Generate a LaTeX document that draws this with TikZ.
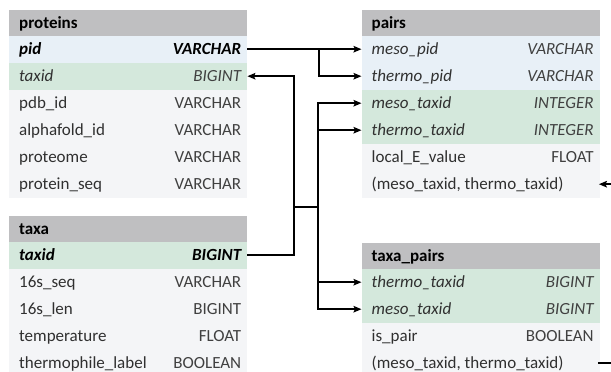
\documentclass[tikz,border=0pt]{standalone}
\usepackage{fontspec}
\setmainfont{Carlito}
\usetikzlibrary{arrows.meta,calc}
\definecolor{hdrgray}{HTML}{BFBFC1}
\definecolor{keyblue}{HTML}{E8F0F7}
\definecolor{keygreen}{HTML}{D4E8DC}
\definecolor{plainrow}{HTML}{F4F5F7}
\definecolor{fieldcol}{HTML}{303030}
\definecolor{typecol}{HTML}{404040}
\tikzset{
  rowbox/.style={anchor=north west, minimum width=238pt, minimum height=27pt, inner sep=0pt, draw=none},
  hdrbox/.style={anchor=north west, minimum width=238pt, minimum height=26pt, inner sep=0pt, fill=hdrgray, draw=none},
  fieldtxt/.style={anchor=base west, inner sep=0pt, text=fieldcol, font=\fontsize{17}{20}\selectfont},
  typetxt/.style={anchor=base east, inner sep=0pt, text=typecol, font=\fontsize{17}{20}\selectfont},
  hdrtxt/.style={anchor=base west, inner sep=0pt, text=black, font=\fontsize{17}{20}\selectfont\bfseries},
  conn/.style={line width=1.6pt, -{Stealth[length=8pt,width=6.5pt,inset=1.5pt]}},
  link/.style={line width=1.6pt},
}
\newcommand\tblhead[4]{%
  \node[hdrbox] (#1) at (#2,#3) {};
  \node[hdrtxt] (#1-f) at ([xshift=10pt,yshift=-5.5pt]#1.west) {#4};
}
\newcommand\tblrow[6]{%
  \node[rowbox,fill=#4] (#1) at (#2,#3) {};
  \node[fieldtxt] (#1-f) at ([xshift=10pt,yshift=-5.5pt]#1.west) {#5};
  \node[typetxt] (#1-t) at ([xshift=-6pt,yshift=-5.5pt]#1.east) {#6};
}
\begin{document}
\begin{tikzpicture}[x=1pt,y=-1pt]
\useasboundingbox[fill=white] (0,0) rectangle (611,372);
\clip (0,0) rectangle (611,372);
% proteins
\tblhead{ph}{9}{9.5}{proteins}
\tblrow{p1}{9}{35.5}{keyblue}{\color{black}\bfseries\itshape pid}{\color{black}\bfseries\itshape VARCHAR}
\tblrow{p2}{9}{62.5}{keygreen}{\itshape taxid}{\itshape BIGINT}
\tblrow{p3}{9}{89.5}{plainrow}{pdb\_id}{VARCHAR}
\tblrow{p4}{9}{116.5}{plainrow}{alphafold\_id}{VARCHAR}
\tblrow{p5}{9}{143.5}{plainrow}{proteome}{VARCHAR}
\tblrow{p6}{9}{170.5}{plainrow}{protein\_seq}{VARCHAR}
% taxa
\tblhead{th}{9}{215.5}{taxa}
\tblrow{t1}{9}{241.5}{keygreen}{\color{black}\bfseries\itshape taxid}{\color{black}\bfseries\itshape BIGINT}
\tblrow{t2}{9}{268.5}{plainrow}{16s\_seq}{VARCHAR}
\tblrow{t3}{9}{295.5}{plainrow}{16s\_len}{BIGINT}
\tblrow{t4}{9}{322.5}{plainrow}{temperature}{FLOAT}
\tblrow{t5}{9}{349.5}{plainrow}{thermophile\_label}{BOOLEAN}
% pairs
\tblhead{qh}{361.5}{9.5}{pairs}
\tblrow{q1}{361.5}{35.5}{keyblue}{\itshape meso\_pid}{\itshape VARCHAR}
\tblrow{q2}{361.5}{62.5}{keyblue}{\itshape thermo\_pid}{\itshape VARCHAR}
\tblrow{q3}{361.5}{89.5}{keygreen}{\itshape meso\_taxid}{\itshape INTEGER}
\tblrow{q4}{361.5}{116.5}{keygreen}{\itshape thermo\_taxid}{\itshape INTEGER}
\tblrow{q5}{361.5}{143.5}{plainrow}{local\_E\_value}{FLOAT}
\tblrow{q6}{361.5}{170.5}{plainrow}{(meso\_taxid, thermo\_taxid)}{}
% taxa_pairs
\tblhead{rh}{361.5}{242.5}{taxa\_pairs}
\tblrow{r1}{361.5}{268.5}{keygreen}{\itshape thermo\_taxid}{\itshape BIGINT}
\tblrow{r2}{361.5}{295.5}{keygreen}{\itshape meso\_taxid}{\itshape BIGINT}
\tblrow{r3}{361.5}{322.5}{plainrow}{is\_pair}{BOOLEAN}
\tblrow{r4}{361.5}{349.5}{plainrow}{(meso\_taxid, thermo\_taxid)}{}
% junctions
\coordinate (j1) at (319,49);
\coordinate (j2) at (294,207);
\coordinate (j3) at (318,207);
\coordinate (j4) at (630,270);
% connectors
\draw[conn] (p1.east) -- (q1.west);
\draw[conn] (j1) |- (q2.west);
\draw[conn] (t1.east) -| (j2) |- (p2.east);
\draw[link] (j2) -- (j3);
\draw[conn] (j3) |- (q3.west);
\draw[conn] (j3) |- (q4.west);
\draw[conn] (j3) |- (r1.west);
\draw[conn] (j3) |- (r2.west);
\draw[conn] ([xshift=-2pt]r4.east) -| (j4) |- ([xshift=-1pt]q6.east);
\end{tikzpicture}
\end{document}
